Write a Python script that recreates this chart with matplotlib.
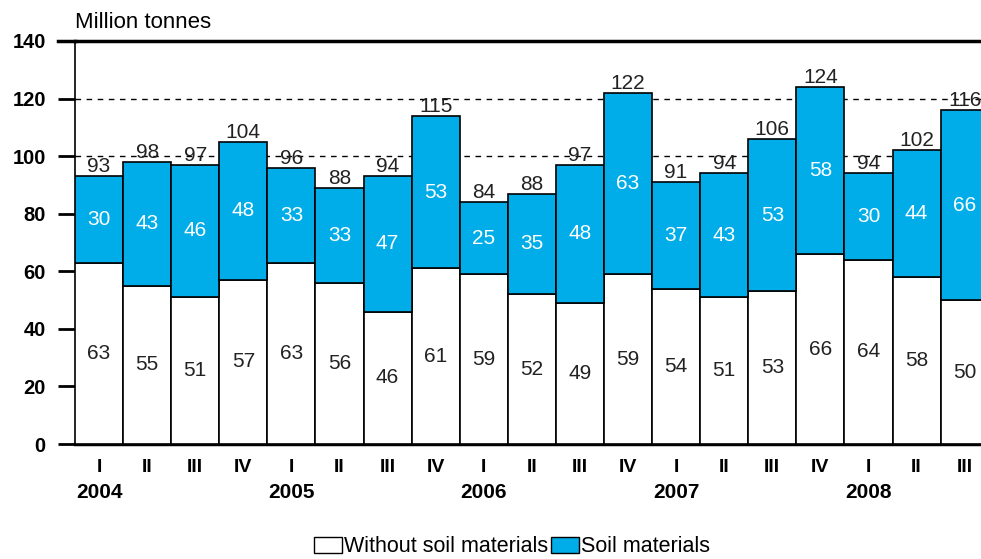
import matplotlib
matplotlib.use("Agg")
import matplotlib.pyplot as plt
from matplotlib.patches import Patch

quarters = ["I", "II", "III", "IV"] * 4 + ["I", "II", "III"]
years = ["2004", "2005", "2006", "2007", "2008"]
without_soil = [63, 55, 51, 57, 63, 56, 46, 61, 59, 52, 49, 59, 54, 51, 53, 66, 64, 58, 50]
soil = [30, 43, 46, 48, 33, 33, 47, 53, 25, 35, 48, 63, 37, 43, 53, 58, 30, 44, 66]
totals = [93, 98, 97, 104, 96, 88, 94, 115, 84, 88, 97, 122, 91, 94, 106, 124, 94, 102, 116]

plt.rcParams['font.family'] = ['Liberation Sans', 'DejaVu Sans']
BLUE = "#00ADE9"

fig = plt.figure(figsize=(9.81, 5.59), dpi=100)
ax = fig.add_axes([75/981, 115/559, 1 - 75/981, (444-41)/559])

x = list(range(len(quarters)))
ax.bar(x, without_soil, width=1.0, color="white", edgecolor="black", linewidth=1.2, zorder=3)
ax.bar(x, soil, width=1.0, bottom=without_soil, color=BLUE, edgecolor="black", linewidth=1.2, zorder=3)

for i in x:
    ax.text(i, without_soil[i] / 2, str(without_soil[i]), ha="center", va="center",
            fontsize=15, color="#222222", zorder=4)
    ax.text(i, without_soil[i] + soil[i] / 2, str(soil[i]), ha="center", va="center",
            fontsize=15, color="white", zorder=4)
    ax.text(i, without_soil[i] + soil[i] + 1.4, str(totals[i]), ha="center", va="baseline",
            fontsize=15, color="#222222", zorder=4)

ax.set_xlim(-0.5, 18.34)
ax.set_ylim(0, 140)
ax.set_yticks(range(0, 141, 20))
ax.set_yticklabels([str(v) for v in range(0, 141, 20)], fontsize=14.5, fontweight="bold")
ax.tick_params(axis="y", length=12, width=2, pad=9)
ax.tick_params(axis="x", length=0, pad=11)
for v in range(20, 140, 20):
    ax.axhline(v, color="black", linestyle=(0, (4, 4)), linewidth=1, zorder=1)
ax.axhline(140, color="black", linewidth=2.5, zorder=5, clip_on=False)
ax.plot([-0.5 - 17/48.1, -0.5], [140, 140], color="black", linewidth=2.5, clip_on=False, zorder=5)

ax.set_xticks(x)
ax.set_xticklabels(quarters, fontsize=14, fontweight="bold")
for k, yr in enumerate(years):
    ax.text(k * 4, -17, yr, ha="center", va="center", fontsize=15, fontweight="bold",
            transform=ax.transData)

for s in ["top", "right"]:
    ax.spines[s].set_visible(False)
ax.spines["bottom"].set_linewidth(2.5)
ax.spines["left"].set_linewidth(1.2)

fig.text(75/981, 1 - 23/559, "Million tonnes", ha="left", va="center", fontsize=16)

handles = [Patch(facecolor="white", edgecolor="black", label="Without soil materials"),
           Patch(facecolor=BLUE, edgecolor="black", label="Soil materials")]
fig.legend(handles=handles, loc="center", bbox_to_anchor=(512/981, 1 - 547/559), ncol=2,
           frameon=False, fontsize=15.5, handlelength=1.3, handleheight=0.7,
           handletextpad=0.1, columnspacing=0.1, borderpad=0)

fig.savefig("out.png", dpi=100)
